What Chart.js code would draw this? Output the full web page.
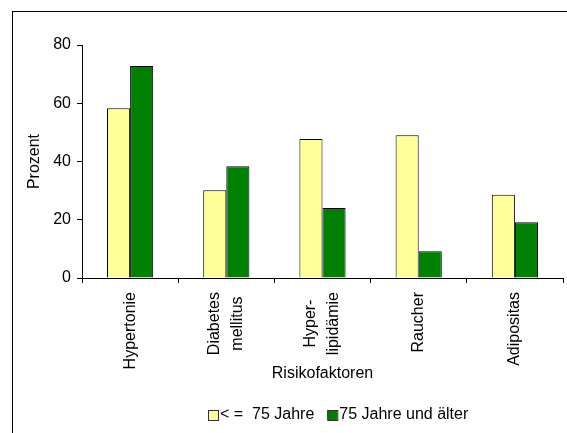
<!DOCTYPE html>
<html>
<head>
<meta charset="utf-8">
<script src="https://cdn.jsdelivr.net/npm/chart.js@4/dist/chart.umd.min.js"></script>
<style>
  html, body { margin: 0; padding: 0; background: #fff; }
  #wrap { width: 567px; height: 433px; position: relative; }
</style>
</head>
<body>
<div id="wrap"><canvas id="c" width="567" height="433"></canvas></div>
<script>
// Risikofaktoren nach Altersgruppe (Prozent)
const categories = [
  'Hypertonie',
  ['Diabetes', 'mellitus'],
  ['Hyper-', 'lipidämie'],
  'Raucher',
  'Adipositas'
];
const seriesNames = ['< =  75 Jahre', '75 Jahre und älter'];
const bis75 = [58.3, 30.1, 47.7, 49.0, 28.6];
const ab75 = [72.8, 38.4, 24.0, 9.2, 19.1];
const yTicks = [0, 20, 40, 60, 80];

const FONT = 'Arial, "Liberation Sans", sans-serif';
const FS = 16;

// Outer frame around the chart
const framePlugin = {
  id: 'frame',
  beforeDraw(chart) {
    const ctx = chart.ctx;
    ctx.save();
    ctx.fillStyle = '#fff';
    ctx.fillRect(0, 0, chart.width, chart.height);
    ctx.strokeStyle = '#000';
    ctx.lineWidth = 1;
    ctx.strokeRect(12.5, 11.5, 700, 600);
    ctx.restore();
  }
};

// Vertical category labels: block starts just below the axis,
// lines of a multi-line label are centred within the block.
const categoryLabelPlugin = {
  id: 'categoryLabels',
  afterDraw(chart) {
    const scale = chart.scales.x;
    const ctx = chart.ctx;
    const lineGap = 23;
    const top = scale.top + 14;
    ctx.save();
    ctx.font = FS + 'px ' + FONT;
    ctx.fillStyle = '#000';
    ctx.textAlign = 'center';
    ctx.textBaseline = 'middle';
    chart.data.labels.forEach((lab, i) => {
      const lines = Array.isArray(lab) ? lab : [lab];
      const widths = lines.map(l => ctx.measureText(l).width);
      const blockW = Math.max(...widths);
      const cx = scale.getPixelForTick(i);
      const cy = top + blockW / 2;
      lines.forEach((l, j) => {
        const lx = cx + (j - (lines.length - 1) / 2) * lineGap;
        ctx.save();
        ctx.translate(lx, cy);
        ctx.rotate(-Math.PI / 2);
        ctx.fillText(l, 0, 0);
        ctx.restore();
      });
    });
    ctx.restore();
  }
};

// Compact legend row below the axis title
const legendPlugin = {
  id: 'compactLegend',
  afterDraw(chart) {
    const ctx = chart.ctx;
    ctx.save();
    ctx.font = FS + 'px ' + FONT;
    ctx.textBaseline = 'middle';
    ctx.textAlign = 'left';
    let x = 208;
    const cy = 415;
    chart.data.datasets.forEach((ds) => {
      ctx.fillStyle = ds.backgroundColor;
      ctx.fillRect(x, cy - 5, 10, 10);
      ctx.strokeStyle = '#333';
      ctx.lineWidth = 1;
      ctx.strokeRect(x + 0.5, cy - 4.5, 10, 10);
      ctx.fillStyle = '#000';
      ctx.fillText(ds.label, x + 12, cy);
      x += 12 + ctx.measureText(ds.label).width + 13;
    });
    ctx.restore();
  }
};

new Chart(document.getElementById('c'), {
  type: 'bar',
  data: {
    labels: categories,
    datasets: [
      { label: seriesNames[0], data: bis75, backgroundColor: '#FFFF99', borderColor: '#000', borderWidth: 1 },
      { label: seriesNames[1], data: ab75, backgroundColor: '#008000', borderColor: '#000', borderWidth: 1 }
    ]
  },
  options: {
    responsive: false,
    animation: false,
    devicePixelRatio: 1,
    layout: { padding: { left: 0, right: 4, top: 45, bottom: 40 } },
    datasets: { bar: { categoryPercentage: 0.48, barPercentage: 1 } },
    plugins: {
      tooltip: { enabled: false },
      legend: { display: false }
    },
    scales: {
      x: {
        afterFit(scale) { scale.height = 115; },
        grid: { display: true, drawOnChartArea: false, drawTicks: true, tickLength: 5, color: '#000', offset: true },
        border: { display: true, color: '#000', width: 1 },
        ticks: { display: false, autoSkip: false },
        title: { display: true, text: 'Risikofaktoren', color: '#000', font: { family: FONT, size: FS }, padding: { top: 0, bottom: 10 } }
      },
      y: {
        min: 0, max: 80,
        afterFit(scale) { scale.width = 82; },
        afterBuildTicks(scale) { scale.ticks = yTicks.map(v => ({ value: v })); },
        grid: { display: true, drawOnChartArea: false, drawTicks: true, tickLength: 5, color: '#000' },
        border: { display: true, color: '#000', width: 1 },
        ticks: { color: '#000', font: { family: FONT, size: FS }, padding: 6 },
        title: { display: true, text: 'Prozent', color: '#000', font: { family: FONT, size: FS }, padding: { top: 25, bottom: 0 } }
      }
    }
  },
  plugins: [framePlugin, categoryLabelPlugin, legendPlugin]
});
</script>
</body>
</html>
